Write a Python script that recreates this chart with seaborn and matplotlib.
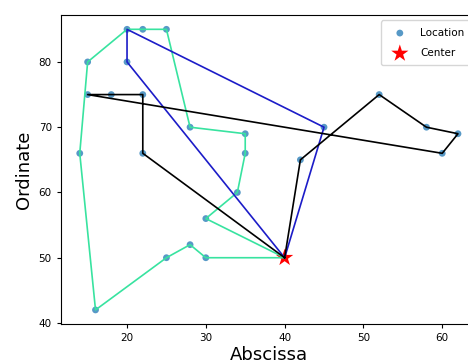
import matplotlib
matplotlib.use("Agg")
import matplotlib.pyplot as plt
import seaborn as sns
import pandas as pd

# Customer locations
loc_x = [20, 22, 25, 15, 20, 15, 18, 22, 28, 35, 35, 14, 22, 34, 30, 28, 25, 30, 16, 45, 52, 58, 62, 60, 42]
loc_y = [85, 85, 85, 80, 80, 75, 75, 75, 70, 69, 66, 66, 66, 60, 56, 52, 50, 50, 42, 70, 75, 70, 69, 66, 65]

# Depot
center_x = [40]
center_y = [50]

# Vehicle routes (start and end at the depot)
route_green_x = [40, 30, 28, 25, 16, 14, 15, 20, 22, 25, 28, 35, 35, 34, 30, 40]
route_green_y = [50, 50, 52, 50, 42, 66, 80, 85, 85, 85, 70, 69, 66, 60, 56, 50]
route_blue_x = [40, 20, 20, 45, 40]
route_blue_y = [50, 80, 85, 70, 50]
route_black_x = [40, 22, 22, 18, 15, 60, 62, 58, 52, 42, 40]
route_black_y = [50, 66, 75, 75, 75, 66, 69, 70, 75, 65, 50]

routes = [
    (route_green_x, route_green_y, "#38e3a0"),
    (route_blue_x, route_blue_y, "#1c1cc8"),
    (route_black_x, route_black_y, "black"),
]

fig = plt.figure(figsize=(4.68, 3.64), dpi=100)
ax = fig.add_axes([0.130, 0.110, 0.889, 0.848])

sns.scatterplot(x=loc_x, y=loc_y, color="#1f77b4", alpha=0.75, s=24,
                edgecolor="none", label="Location", ax=ax, zorder=2)
sns.scatterplot(x=center_x, y=center_y, color="red", marker="*", s=170,
                edgecolor="none", label="Center", ax=ax, zorder=2)

for rx, ry, col in routes:
    df = pd.DataFrame({"x": rx, "y": ry})
    sns.lineplot(data=df, x="x", y="y", sort=False, estimator=None,
                 color=col, linewidth=1.2, ax=ax, zorder=3)

ax.set_xticks([20, 30, 40, 50, 60])
ax.set_yticks([40, 50, 60, 70, 80])
ax.tick_params(labelsize=7.5, length=3)
ax.set_xlabel("Abscissa", fontsize=13, labelpad=2)
ax.set_ylabel("Ordinate", fontsize=13)
ax.legend(loc="upper right", fontsize=7.5, labelspacing=1.0,
          borderpad=0.7, handlelength=2.3)

fig.savefig("out.png", dpi=100)
